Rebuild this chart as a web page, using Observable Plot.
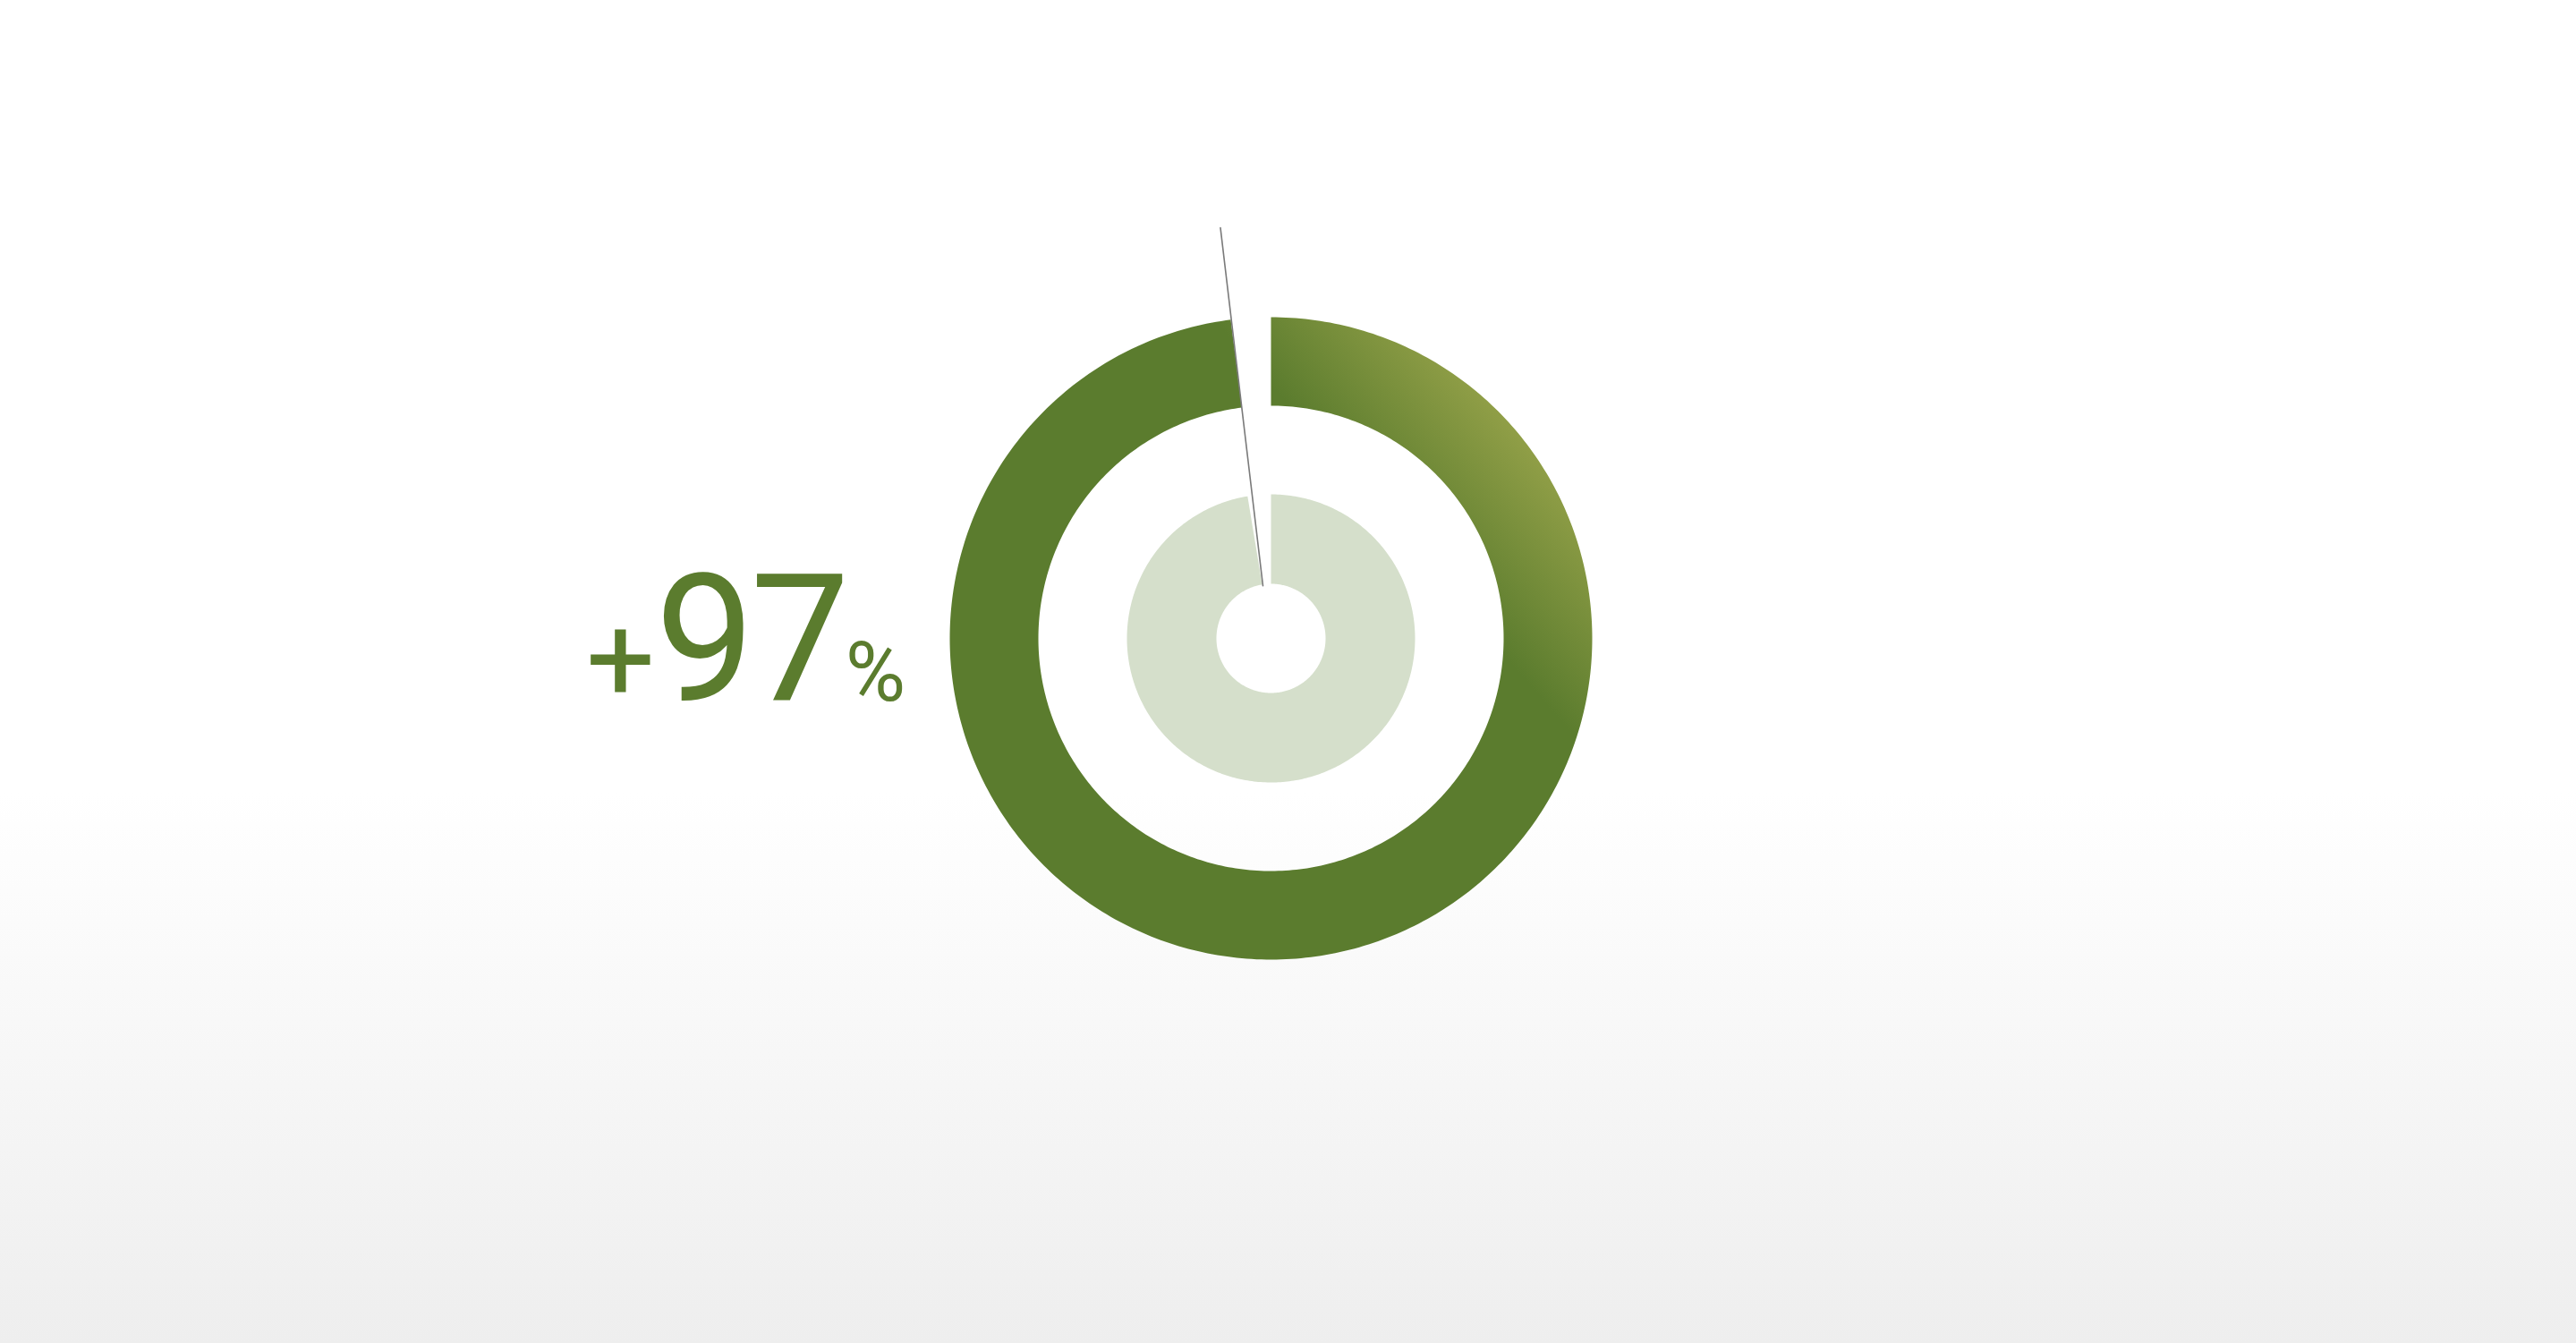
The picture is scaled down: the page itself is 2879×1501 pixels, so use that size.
<!DOCTYPE html>
<html>
<head>
<meta charset="utf-8">
<script src="https://cdn.jsdelivr.net/npm/d3@7"></script>
<script src="https://cdn.jsdelivr.net/npm/@observablehq/plot@0.6"></script>
<style>
  html, body { margin: 0; padding: 0; width: 2879px; height: 1501px; overflow: hidden;
    background: linear-gradient(to bottom, #ffffff 0%, #ffffff 59%, #eeeeee 100%); }
  #chart { position: absolute; left: 0; top: 0; }
  #chart svg { background: transparent !important; }
</style>
</head>
<body>
<div id="chart"></div>
<script>
// ---- data ----
const ringNames = ["outer", "inner"];
const ringShares = [0.98, 0.974];          // share of the full circle covered by each ring
const ringColors = ["url(#ringGradient)", "#d5dfcb"];
const labelParts = ["+", "97", "%"];
const needleAngles = [0.9805, 0.9758];     // needle end positions, as share of the circle
const needleRadii = [1.288, 0.166];        // relative to outer radius

// ---- geometry (not data) ----
const W = 2879, H = 1501;
const CX = 1420, CY = 713, R = 359;        // centre and outer radius in pixels
const ringOuter = [1, 161 / R];
const ringInner = [260 / R, 61 / R];
const darkGreen = "#5b7c2e";

function polar(share, r) {
  const a = share * 2 * Math.PI;
  return {x: r * Math.sin(a), y: r * Math.cos(a)};
}

const ringPoints = [];
ringNames.forEach((name, i) => {
  const n = 400;
  for (let k = 0; k <= n; ++k) ringPoints.push({ring: name, ...polar(ringShares[i] * k / n, ringOuter[i])});
  for (let k = n; k >= 0; --k) ringPoints.push({ring: name, ...polar(ringShares[i] * k / n, ringInner[i])});
});
const needle = needleAngles.map((s, i) => polar(s, needleRadii[i]));

const chart = Plot.plot({
  width: W,
  height: H,
  margin: 0,
  x: {domain: [-CX / R, (W - CX) / R], axis: null},
  y: {domain: [-(H - CY) / R, CY / R], axis: null},
  color: {domain: ringNames, range: ringColors},
  style: {background: "transparent"},
  marks: [
    Plot.line(ringPoints, {x: "x", y: "y", z: "ring", fill: "ring", stroke: null, curve: "linear"}),
    Plot.line(needle, {x: "x", y: "y", stroke: "#7a7a7a", strokeWidth: 1.6})
  ]
});

// gradient for the outer ring (light olive toward the upper right)
const nx = 0.758, ny = -0.653;
const svg = d3.select(chart);
const defs = svg.insert("defs", ":first-child");
const g = defs.append("linearGradient")
  .attr("id", "ringGradient")
  .attr("gradientUnits", "userSpaceOnUse")
  .attr("x1", CX + 185 * nx).attr("y1", CY + 185 * ny)
  .attr("x2", CX + 362 * nx).attr("y2", CY + 362 * ny);
g.append("stop").attr("offset", 0).attr("stop-color", darkGreen);
g.append("stop").attr("offset", 1).attr("stop-color", "#919f47");

// big percentage label
const t = svg.append("text")
  .attr("x", 655).attr("y", 783)
  .attr("text-anchor", "start")
  .attr("fill", darkGreen)
  .attr("font-family", "Roboto, 'Liberation Sans', sans-serif")
  .attr("font-weight", 400);
t.append("tspan").attr("font-size", 136).text(labelParts[0]);
t.append("tspan").attr("font-size", 198).attr("letter-spacing", -5).text(labelParts[1]);
t.append("tspan").attr("font-size", 92).text(labelParts[2]);

document.getElementById("chart").appendChild(chart);
</script>
</body>
</html>
